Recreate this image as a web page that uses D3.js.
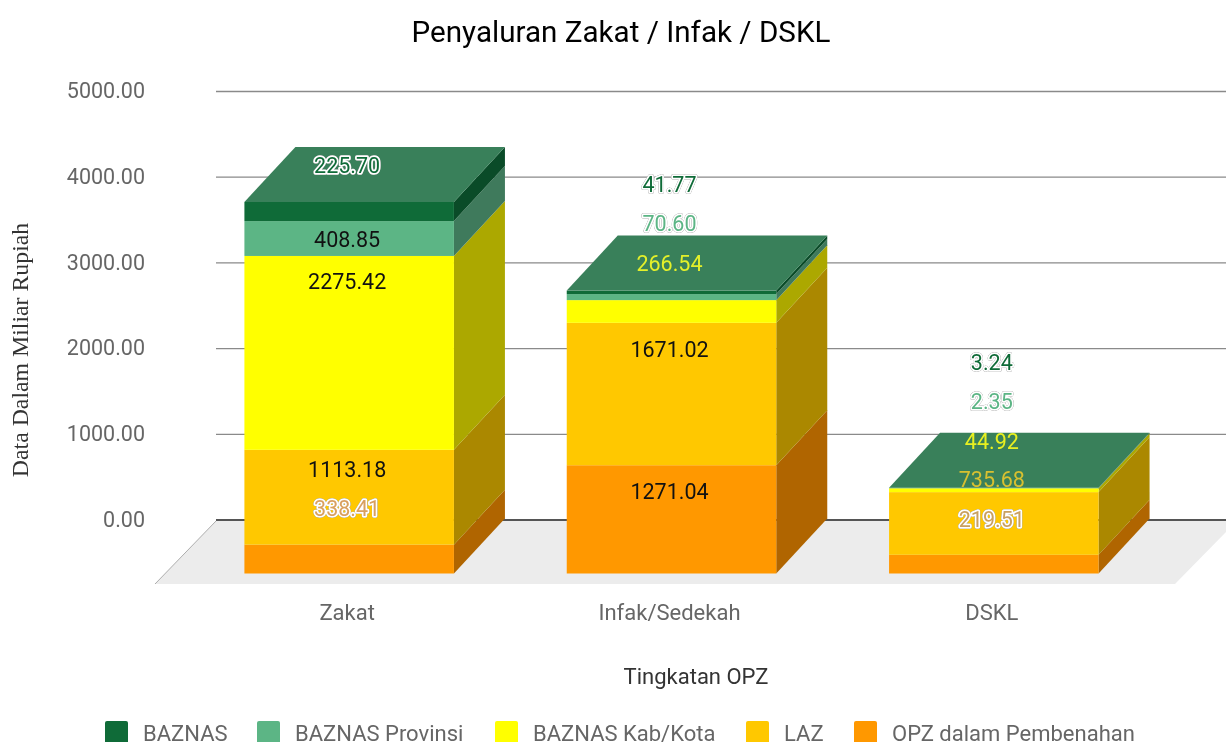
<!DOCTYPE html>
<html><head><meta charset="utf-8">
<script src="https://cdn.jsdelivr.net/npm/d3@7/dist/d3.min.js"></script>
<style>
html,body{margin:0;padding:0;background:#fff;overflow:hidden}
svg{display:block;filter:blur(0.35px)}
text{font-family:Roboto,sans-serif}
</style></head><body>
<svg id="c" width="1226" height="742"></svg>
<script>
const categories = ["Zakat", "Infak/Sedekah", "DSKL"];
const seriesNames = ["BAZNAS", "BAZNAS Provinsi", "BAZNAS Kab/Kota", "LAZ", "OPZ dalam Pembenahan"];
const baznas = [225.70, 41.77, 3.24];
const baznasProvinsi = [408.85, 70.60, 2.35];
const baznasKabKota = [2275.42, 266.54, 44.92];
const laz = [1113.18, 1671.02, 735.68];
const opz = [338.41, 1271.04, 219.51];
const tickValues = [0, 1000, 2000, 3000, 4000, 5000];

const frontColors = ["#0f6b38", "#5cb585", "#ffff00", "#ffc800", "#ff9800"];
const sideColors = ["#0a4b28", "#3f7a5c", "#aca800", "#ab8800", "#b06500"];
const topColor = "#39805a";

// label layout: where each label sits, in pixels below the chart's zero line
const labelRows = [
  [-354.5, -335.5, -157.5],
  [-280.5, -296.5, -118.5],
  [-238.5, -256.5, -78.5],
  [-50.5, -170.5, -40.5],
  [-11.5, -28.5, 0]
];
const labelFills = [
  ["#0f6b38", "#0f6b38", "#0f6b38"],
  ["#111111", "#5cb585", "#5cb585"],
  ["#111111", "#e4f02a", "#e8f020"],
  ["#111111", "#111111", "#d8c030"],
  ["#d9a060", "#111111", "#c9a060"]
];
const labelHalo = [
  [true, true, true],
  [false, true, true],
  [false, false, false],
  [false, false, false],
  [true, false, true]
];

const W = 1226, H = 742;
const depthX = 51, depthY = 55;
const seriesValues = [baznas, baznasProvinsi, baznasKabKota, laz, opz];

const svg = d3.select("#c");
const y = d3.scaleLinear().domain([0, 5000]).range([519.5, 91]);
const x = d3.scaleBand().domain(categories).range([188, 1155]).paddingInner(0.35).paddingOuter(0.175);
const frontY = d3.scaleLinear().domain([0, 5000]).range([573.5, 147.5]);

const rows = categories.map((c, i) => {
  const r = { cat: c };
  seriesNames.forEach((s, k) => r[s] = seriesValues[k][i]);
  return r;
});
const stacked = d3.stack().keys(seriesNames.slice().reverse())(rows);

// floor
svg.append("polygon")
  .attr("points", [[216, 521], [1226, 521], [1226, 532], [1175, 584], [155, 584]].join(" "))
  .attr("fill", "#ececec");
svg.append("line").attr("x1", 216).attr("y1", 521).attr("x2", 155).attr("y2", 584)
  .attr("stroke", "#9a9a9a").attr("stroke-width", 0.8);

// y axis + grid
const axis = d3.axisLeft(y).tickValues(tickValues).tickFormat(d3.format(".2f")).tickSize(0).tickPadding(71);
const gAxis = svg.append("g").attr("transform", "translate(216,0)").call(axis);
gAxis.select(".domain").remove();
gAxis.selectAll("text").attr("font-size", 21.5).attr("fill", "#666").attr("font-family", "Roboto,sans-serif");
gAxis.selectAll(".tick").append("line")
  .attr("x1", 0).attr("x2", W - 216)
  .attr("stroke", d => d === 0 ? "#555" : "#8a8a8a")
  .attr("stroke-width", d => d === 0 ? 2 : 1.3);

// bars
const gBars = svg.append("g");
stacked.forEach(layer => {
  const k = seriesNames.indexOf(layer.key);
  layer.forEach((d, i) => {
    const x0 = x(categories[i]), w = x.bandwidth();
    const yb = frontY(d[0]), yt = frontY(d[1]);
    gBars.append("polygon")
      .attr("points", [[x0 + w, yb], [x0 + w + depthX, yb - depthY], [x0 + w + depthX, yt - depthY], [x0 + w, yt]].join(" "))
      .attr("fill", sideColors[k]);
    gBars.append("rect")
      .attr("x", x0).attr("y", yt).attr("width", w).attr("height", yb - yt)
      .attr("fill", frontColors[k]);
  });
});
categories.forEach((c, i) => {
  const x0 = x(c), w = x.bandwidth();
  const total = d3.sum(seriesValues, s => s[i]);
  const yt = frontY(total);
  gBars.append("polygon")
    .attr("points", [[x0, yt], [x0 + depthX, yt - depthY], [x0 + w + depthX, yt - depthY], [x0 + w, yt]].join(" "))
    .attr("fill", topColor);
});

// data labels
seriesValues.forEach((vals, k) => {
  vals.forEach((v, i) => {
    const t = svg.append("text")
      .attr("x", x(categories[i]) + x.bandwidth() / 2 - 2)
      .attr("y", y(0) + labelRows[k][i])
      .attr("dy", "0.35em")
      .attr("text-anchor", "middle")
      .attr("font-size", 21.5)
      .attr("fill", labelFills[k][i])
      .text(d3.format(".2f")(v));
    if (labelHalo[k][i]) {
      t.attr("stroke", "#fff").attr("stroke-width", 3.5)
       .style("paint-order", "stroke").attr("stroke-linejoin", "round")
       .style("filter", "drop-shadow(0 0 0.6px #555)");
    }
  });
});

// category labels
categories.forEach(c => {
  svg.append("text").attr("x", x(c) + x.bandwidth() / 2 - 2).attr("y", 612).attr("dy", "0.35em")
    .attr("text-anchor", "middle").attr("font-size", 22).attr("fill", "#666").text(c);
});

// titles
svg.append("text").attr("x", 621).attr("y", 32).attr("dy", "0.35em").attr("text-anchor", "middle")
  .attr("font-size", 29.6).attr("fill", "#000").text("Penyaluran Zakat / Infak / DSKL");
svg.append("text").attr("x", 696).attr("y", 676).attr("dy", "0.35em").attr("text-anchor", "middle")
  .attr("font-size", 22).attr("fill", "#333").text("Tingkatan OPZ");
svg.append("text").attr("transform", "translate(21,350) rotate(-90)").attr("dy", "0.3em")
  .attr("text-anchor", "middle").attr("font-size", 23.8).attr("fill", "#333")
  .style("font-family", "'Liberation Serif',serif").text("Data Dalam Miliar Rupiah");

// legend
const legendX = d3.scaleOrdinal().domain(seriesNames).range([105, 257, 495, 746, 854]);
seriesNames.forEach((s, k) => {
  svg.append("rect").attr("x", legendX(s)).attr("y", 721).attr("width", 23).attr("height", 24).attr("rx", 2)
    .attr("fill", frontColors[k]);
  svg.append("text").attr("x", legendX(s) + 38).attr("y", 733).attr("dy", "0.35em")
    .attr("font-size", 22).attr("fill", "#666").text(s);
});
</script>
</body></html>
